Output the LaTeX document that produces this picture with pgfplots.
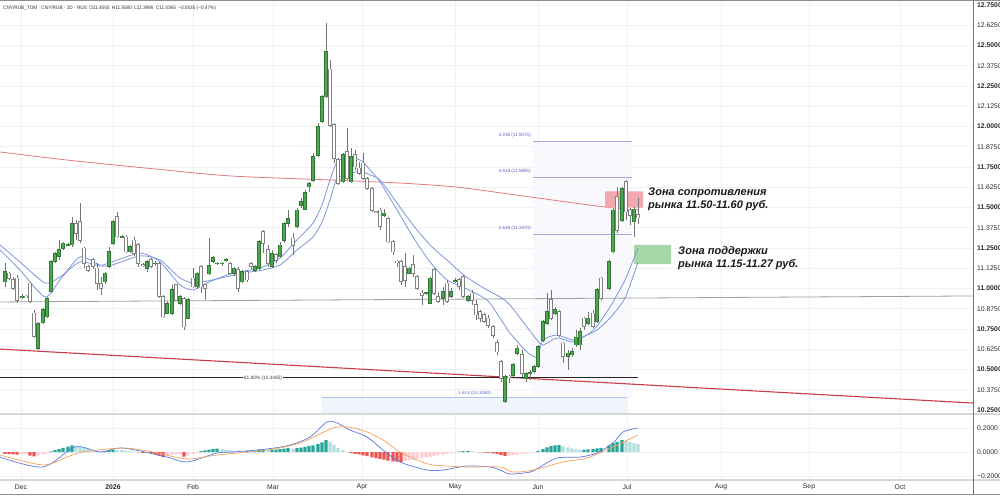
\documentclass[border=0pt]{standalone}
\usepackage{fontspec}
\setmainfont{Liberation Sans}
\usepackage{pgfplots}
\pgfplotsset{compat=1.18}
\usepackage{pgfplotstable}
\definecolor{gridc}{RGB}{240,241,245}
\definecolor{labc}{RGB}{40,40,40}
\definecolor{sepc}{RGB}{215,215,215}
\definecolor{greenin}{RGB}{76,168,80}
\definecolor{greenout}{RGB}{46,120,50}
\definecolor{whiteout}{RGB}{130,130,130}
\definecolor{wickc}{RGB}{115,115,115}
\definecolor{smac}{RGB}{228,120,125}
\definecolor{trendc}{RGB}{205,60,70}
\definecolor{mac}{RGB}{125,148,222}
\definecolor{hlinec}{RGB}{160,160,160}
\definecolor{fibc}{RGB}{165,168,230}
\definecolor{fibt}{RGB}{100,95,190}
\definecolor{fibfill}{RGB}{249,249,253}
\definecolor{fib2c}{RGB}{170,195,240}
\definecolor{fib2fill}{RGB}{240,245,252}
\definecolor{fib2t}{RGB}{80,110,200}
\definecolor{hteal}{RGB}{38,166,154}
\definecolor{hlteal}{RGB}{178,223,219}
\definecolor{hred}{RGB}{239,83,80}
\definecolor{hpink}{RGB}{255,205,210}
\definecolor{macdc}{RGB}{90,120,230}
\definecolor{sigc}{RGB}{245,160,90}
\definecolor{resc}{RGB}{243,167,175}
\definecolor{supc}{RGB}{165,215,167}

\pgfplotstableread{
x o h l c
5 11.042 11.155 11.011 11.104
22 10.948 10.965 10.935 10.952
38 10.631 10.795 10.620 10.785
43 10.789 10.877 10.780 10.867
47 10.826 10.950 10.820 10.939
51 10.981 11.176 10.970 11.166
55 11.166 11.227 11.155 11.217
59 11.197 11.299 11.176 11.238
63 11.248 11.290 11.240 11.279
68 11.268 11.280 11.260 11.272
72 11.269 11.443 11.258 11.398
105 11.042 11.100 11.030 11.094
109 11.135 11.258 11.125 11.227
113 11.279 11.423 11.269 11.413
122 11.316 11.330 11.310 11.320
130 11.227 11.270 11.220 11.258
147 11.125 11.176 11.100 11.166
155 11.153 11.170 11.140 11.157
167 10.847 10.920 10.840 10.908
172 10.847 11.022 10.836 10.991
180 10.908 10.960 10.900 10.950
188 10.816 10.940 10.810 10.929
197 11.011 11.100 11.000 11.094
209 11.090 11.310 11.083 11.139
213 11.166 11.200 11.155 11.192
217 11.153 11.165 11.145 11.157
222 11.153 11.165 11.140 11.157
226 11.174 11.190 11.165 11.178
234 11.094 11.135 11.080 11.125
242 11.042 11.114 11.032 11.104
255 11.114 11.145 11.105 11.135
259 11.124 11.299 11.114 11.289
272 11.135 11.238 11.124 11.217
280 11.196 11.289 11.186 11.268
284 11.299 11.412 11.279 11.402
288 11.402 11.484 11.382 11.433
297 11.382 11.495 11.371 11.484
301 11.515 11.556 11.495 11.536
305 11.489 11.608 11.484 11.591
309 11.628 11.659 11.598 11.649
313 11.670 11.834 11.659 11.814
318 11.824 12.019 11.814 11.999
322 12.030 12.194 12.019 12.184
326 12.184 12.641 12.174 12.462
343 11.659 11.834 11.649 11.824
351 11.659 11.865 11.649 11.814
384 11.450 11.490 11.440 11.465
409 11.094 11.130 11.090 11.125
426 10.969 10.980 10.960 10.973
430 10.909 11.073 10.904 11.063
443 10.940 11.012 10.898 10.981
451 10.950 11.001 10.940 10.981
455 11.046 11.063 11.032 11.050
468 10.929 10.960 10.919 10.950
505 10.302 10.466 10.296 10.456
513 10.466 10.538 10.456 10.528
517 10.600 10.652 10.590 10.631
526 10.446 10.487 10.425 10.473
530 10.475 10.497 10.436 10.479
534 10.487 10.528 10.477 10.518
538 10.518 10.652 10.508 10.641
543 10.682 10.806 10.672 10.796
547 10.785 10.971 10.775 10.857
555 10.847 10.888 10.837 10.868
568 10.580 10.621 10.498 10.600
572 10.590 10.631 10.580 10.610
576 10.652 10.744 10.641 10.699
580 10.652 10.754 10.621 10.734
588 10.785 10.857 10.775 10.816
597 10.796 11.001 10.785 10.991
609 11.001 11.176 10.991 11.166
613 11.227 11.495 11.221 11.484
622 11.423 11.628 11.413 11.618
634 11.412 11.505 11.320 11.489
}\upc

\pgfplotstableread{
x o h l c
9 11.094 11.104 11.053 11.063
13 11.053 11.073 10.991 11.001
17 11.063 11.083 10.908 10.929
26 10.952 10.960 10.940 10.948
30 11.032 11.042 10.908 10.919
34 10.847 10.867 10.692 10.703
76 11.402 11.423 11.299 11.341
80 11.413 11.526 11.279 11.299
84 11.248 11.258 11.125 11.155
88 11.135 11.145 11.100 11.114
93 11.176 11.190 11.120 11.135
97 11.125 11.155 10.991 11.032
101 11.032 11.073 10.960 11.001
117 11.443 11.474 11.310 11.320
126 11.316 11.330 11.217 11.227
134 11.299 11.320 11.200 11.217
138 11.269 11.279 11.135 11.155
143 11.147 11.160 11.130 11.143
151 11.176 11.190 11.125 11.135
159 11.155 11.166 10.939 10.950
163 10.950 10.960 10.816 10.826
176 11.022 11.030 10.920 10.929
184 10.939 10.950 10.744 10.764
193 11.063 11.125 11.001 11.011
201 11.135 11.145 10.970 11.011
205 11.022 11.030 10.930 11.002
230 11.155 11.166 11.083 11.094
238 11.114 11.135 10.981 11.001
247 11.104 11.114 11.042 11.053
251 11.155 11.165 11.120 11.135
263 11.350 11.361 11.217 11.279
268 11.238 11.268 11.135 11.155
276 11.207 11.220 11.160 11.176
293 11.310 11.340 11.207 11.268
330 12.353 12.410 11.999 12.009
334 12.009 12.019 11.773 11.803
338 11.793 11.803 11.639 11.649
347 11.845 11.989 11.670 11.680
355 11.824 11.855 11.731 11.752
359 11.742 11.783 11.701 11.711
363 11.773 11.834 11.670 11.680
367 11.680 11.690 11.608 11.618
372 11.618 11.628 11.474 11.484
376 11.476 11.480 11.465 11.472
380 11.484 11.495 11.361 11.382
388 11.433 11.443 11.279 11.289
393 11.289 11.299 11.207 11.227
397 11.168 11.176 11.135 11.164
401 11.166 11.176 11.022 11.043
405 11.135 11.217 11.012 11.053
413 11.145 11.207 11.073 11.094
417 11.073 11.084 10.991 11.001
422 10.971 10.991 10.898 10.960
434 11.115 11.125 10.960 10.971
438 10.950 10.981 10.909 10.919
447 11.032 11.053 10.909 10.919
459 11.053 11.063 10.991 11.012
463 11.073 11.084 10.940 10.950
472 10.971 10.991 10.898 10.929
476 10.898 10.929 10.806 10.837
480 10.857 10.868 10.796 10.816
484 10.837 10.850 10.785 10.796
488 10.816 10.837 10.754 10.775
493 10.765 10.775 10.693 10.713
497 10.666 10.682 10.590 10.610
501 10.549 10.559 10.425 10.446
509 10.458 10.466 10.415 10.454
522 10.590 10.621 10.456 10.477
551 10.929 10.991 10.806 10.816
559 10.857 10.868 10.703 10.713
563 10.662 10.672 10.538 10.580
584 10.816 10.826 10.744 10.765
593 10.847 10.868 10.754 10.765
601 11.063 11.073 10.929 10.940
617 11.567 11.628 11.340 11.361
626 11.659 11.670 11.423 11.474
630 11.484 11.495 11.392 11.454
638 11.455 11.558 11.3995 11.4365
}\dnc

\pgfplotsset{
  candle/.style n args={2}{draw=none, mark=none, forget plot,
    error bars/.cd, y dir=both, y explicit, error mark=none,
    error bar style={draw=#1, line width=#2, line cap=butt}},
}

\begin{document}
\begin{tikzpicture}
\path[use as bounding box] (0pt,0pt) rectangle (1000pt,-495pt);

\begin{axis}[
  at={(0pt,-1pt)}, anchor=north west, scale only axis,
  width=973pt, height=412pt,
  xmin=0, xmax=973, ymin=10.2315, ymax=12.7747,
  axis line style={draw=none}, major tick length=0pt,
  xtick={21,113,193,273,362,455,538,627,721,809,900}, xticklabels={},
  ytick={10.25,10.375,10.5,10.625,10.75,10.875,11,11.125,11.25,11.375,11.5,11.625,11.75,11.875,12,12.125,12.25,12.375,12.5,12.625,12.75},
  yticklabels={\textbf{10.2500},10.3750,\textbf{10.5000},10.6250,\textbf{10.7500},10.8750,\textbf{11.0000},11.1250,\textbf{11.2500},11.3750,\textbf{11.5000},11.6250,\textbf{11.7500},11.8750,\textbf{12.0000},12.1250,\textbf{12.2500},12.3750,\textbf{12.5000},12.6250,\textbf{12.7500}},
  yticklabel pos=right,
  yticklabel style={anchor=west, inner sep=0pt, xshift=4pt, font=\fontsize{6.8}{8}\selectfont, text=labc},
  xmajorgrids, ymajorgrids, grid style={gridc, line width=0.7pt},
]
\addplot[draw=none, fill=fibfill] coordinates {(533,11.9075)(632,11.9075)(632,10.326)(533,10.326)(533,11.9075)};
\addplot[draw=none, fill=fib2fill] coordinates {(322,10.326)(627,10.326)(627,10.2)(322,10.2)(322,10.326)};
\addplot[fibc, line width=0.6pt] coordinates {(533,11.9075)(632,11.9075)};
\addplot[fibc, line width=0.6pt] coordinates {(533,11.6895)(632,11.6895)};
\addplot[fibc, line width=0.6pt] coordinates {(533,11.337)(632,11.337)};
\addplot[fib2c, line width=0.6pt] coordinates {(322,10.326)(627,10.326)};
\node[anchor=east, inner sep=0pt, font=\fontsize{4.6}{5}\selectfont, text=fibt] at (axis cs:531,11.944) {4.236 (11.9075)};
\node[anchor=east, inner sep=0pt, font=\fontsize{4.6}{5}\selectfont, text=fibt] at (axis cs:531,11.725) {3.618 (11.6895)};
\node[anchor=east, inner sep=0pt, font=\fontsize{4.6}{5}\selectfont, text=fibt] at (axis cs:531,11.373) {2.618 (11.3370)};
\node[anchor=east, inner sep=0pt, font=\fontsize{4.6}{5}\selectfont, text=fib2t] at (axis cs:491,10.355) {1.618 (10.3260)};

\addplot[hlinec, line width=0.8pt] coordinates {(0,10.917)(973,10.954)};
\addplot[trendc, line width=1.1pt] coordinates {(0,10.626)(973,10.293)};
\addplot[black!85, line width=1.2pt] coordinates {(0,10.4485)(638,10.4485)};
\node[fill=white, inner sep=1.2pt, font=\fontsize{4.8}{5}\selectfont, text=black!75] at (axis cs:263,10.4485) {61.80\% (10.4485)};

\addplot[smac, line width=0.8pt, smooth] coordinates {(0,11.843)(67,11.793)(150,11.741)(230,11.695)(330,11.670)(400,11.651)(450,11.630)(480,11.608)(530,11.565)(605,11.503)(638,11.485)};

\addplot[draw=none, fill=resc] coordinates {(605,11.5)(643,11.5)(643,11.6)(605,11.6)(605,11.5)};
\addplot[draw=none, fill=supc] coordinates {(634,11.15)(671,11.15)(671,11.27)(634,11.27)(634,11.15)};

\addplot[mac, line width=0.8pt, smooth, tension=0.4] coordinates {(0,11.238)(20,11.114)(45,10.948)(60,11.053)(80,11.195)(100,11.145)(112,11.164)(140,11.219)(160,11.164)(180,11.022)(193,10.991)(207,11.034)(230,11.090)(250,11.114)(263,11.133)(280,11.188)(297,11.300)(313,11.404)(322,11.516)(330,11.670)(337,11.781)(347,11.806)(355,11.806)(363,11.781)(370,11.732)(380,11.658)(397,11.485)(413,11.318)(430,11.164)(447,11.053)(465,11.003)(487,10.929)(500,10.818)(510,10.725)(527,10.608)(537,10.577)(543,10.682)(557,10.713)(573,10.682)(587,10.713)(597,10.769)(610,10.886)(625,11.053)(638,11.250)};
\addplot[mac, line width=0.8pt, smooth, tension=0.4] coordinates {(0,11.269)(20,11.164)(45,11.034)(60,11.071)(80,11.164)(100,11.139)(112,11.145)(140,11.201)(160,11.176)(180,11.065)(193,11.034)(207,11.046)(230,11.077)(250,11.102)(263,11.114)(280,11.145)(297,11.238)(313,11.318)(322,11.411)(330,11.546)(337,11.682)(347,11.701)(355,11.719)(363,11.719)(370,11.701)(380,11.670)(397,11.528)(413,11.392)(430,11.269)(447,11.176)(465,11.077)(487,10.991)(500,10.948)(510,10.898)(527,10.762)(537,10.682)(543,10.651)(557,10.695)(573,10.670)(587,10.713)(597,10.744)(610,10.818)(625,10.941)(638,11.164)};

\addplot[candle={wickc}{0.8pt}]
  table[x=x, y expr={(\thisrow{h}+\thisrow{l})/2}, y error expr={(\thisrow{h}-\thisrow{l})/2}] {\upc};
\addplot[candle={wickc}{0.8pt}]
  table[x=x, y expr={(\thisrow{h}+\thisrow{l})/2}, y error expr={(\thisrow{h}-\thisrow{l})/2}] {\dnc};
\addplot[candle={greenout}{3.3pt}]
  table[x=x, y expr={(\thisrow{o}+\thisrow{c})/2}, y error expr={abs(\thisrow{c}-\thisrow{o})/2+0.0035}] {\upc};
\addplot[candle={greenin}{1.9pt}]
  table[x=x, y expr={(\thisrow{o}+\thisrow{c})/2}, y error expr={max(abs(\thisrow{c}-\thisrow{o})/2-0.001,0)}] {\upc};
\addplot[candle={whiteout}{3.3pt}]
  table[x=x, y expr={(\thisrow{o}+\thisrow{c})/2}, y error expr={abs(\thisrow{c}-\thisrow{o})/2+0.0035}] {\dnc};
\addplot[candle={white}{1.9pt}]
  table[x=x, y expr={(\thisrow{o}+\thisrow{c})/2}, y error expr={max(abs(\thisrow{c}-\thisrow{o})/2-0.001,0)}] {\dnc};

\node[anchor=base west, inner sep=0pt, font=\fontsize{11}{13}\selectfont\bfseries\itshape, text=black!90] at (axis cs:648,11.577) {Зона сопротивления};
\node[anchor=base west, inner sep=0pt, font=\fontsize{11}{13}\selectfont\bfseries\itshape, text=black!90] at (axis cs:648,11.491) {рынка 11.50-11.60 руб.};
\node[anchor=base west, inner sep=0pt, font=\fontsize{11}{13}\selectfont\bfseries\itshape, text=black!90] at (axis cs:678,11.213) {Зона поддержки};
\node[anchor=base west, inner sep=0pt, font=\fontsize{11}{13}\selectfont\bfseries\itshape, text=black!90] at (axis cs:678,11.127) {рынка 11.15-11.27 руб.};
\end{axis}

\begin{axis}[
  at={(0pt,-415pt)}, anchor=north west, scale only axis,
  width=973pt, height=64pt,
  xmin=0, xmax=973, ymin=-0.225, ymax=0.3083,
  axis line style={draw=none}, major tick length=0pt,
  xtick={21,113,193,273,362,455,538,627,721,809,900},
  xticklabels={Dec,\textbf{2026},Feb,Mar,Apr,May,Jun,Jul,Aug,Sep,Oct},
  xticklabel style={anchor=center, inner sep=0pt, yshift=-8pt, font=\fontsize{6.8}{8}\selectfont, text=labc},
  ytick={-0.2,0,0.2}, yticklabels={−0.2000,0.0000,0.2000},
  yticklabel pos=right,
  yticklabel style={anchor=west, inner sep=0pt, xshift=4pt, font=\fontsize{6.8}{8}\selectfont, text=labc},
  xmajorgrids, ymajorgrids, grid style={gridc, line width=0.7pt},
]
\addplot[ybar, bar width=3.3, bar shift=0pt, draw=none, fill=hteal] coordinates {(51,.005)(55,.015)(59,.025)(63,.035)(68,.045)(72,.055)(105,.008)(109,.015)(113,.02)(201,.008)(205,.014)(209,.02)(213,.024)(217,.028)(247,.008)(255,.01)(259,.02)(263,.022)(272,.018)(276,.02)(280,.024)(284,.028)(288,.032)(297,.032)(301,.036)(305,.042)(309,.048)(313,.055)(318,.065)(322,.08)(326,.1)(459,.004)(463,.008)(468,.01)(538,.01)(543,.025)(547,.038)(551,.048)(555,.055)(559,.058)(584,.02)(588,.022)(593,.025)(597,.03)(601,.034)(609,.055)(613,.075)(617,.085)(622,.1)};
\addplot[ybar, bar width=3.3, bar shift=0pt, draw=none, fill=hlteal] coordinates {(76,.05)(80,.045)(84,.035)(88,.028)(93,.02)(97,.012)(101,.005)(117,.018)(122,.015)(126,.012)(130,.008)(134,.004)(222,.025)(226,.02)(230,.014)(234,.01)(238,.006)(242,.004)(251,.007)(268,.016)(293,.028)(330,.085)(334,.06)(338,.035)(343,.015)(347,.004)(472,.006)(476,.002)(563,.048)(568,.038)(572,.03)(576,.022)(580,.018)(626,.092)(630,.085)(634,.075)(638,.065)};
\addplot[ybar, bar width=3.3, bar shift=0pt, draw=none, fill=hred] coordinates {(5,-.015)(9,-.018)(13,-.02)(17,-.022)(30,-.03)(34,-.036)(138,-.004)(143,-.008)(151,-.01)(155,-.018)(159,-.03)(163,-.042)(184,-.038)(351,-.01)(355,-.015)(359,-.02)(363,-.028)(367,-.035)(372,-.045)(376,-.05)(380,-.058)(384,-.064)(388,-.072)(393,-.078)(397,-.08)(401,-.082)(480,-.003)(484,-.005)(488,-.008)(493,-.012)(497,-.018)(501,-.026)(505,-.032)};
\addplot[ybar, bar width=3.3, bar shift=0pt, draw=none, fill=hpink] coordinates {(22,-.018)(26,-.015)(38,-.03)(43,-.02)(47,-.01)(147,-.006)(167,-.035)(172,-.025)(176,-.02)(180,-.018)(188,-.028)(193,-.015)(197,-.005)(405,-.075)(409,-.07)(413,-.064)(417,-.058)(422,-.052)(426,-.046)(430,-.04)(434,-.034)(438,-.028)(443,-.022)(447,-.016)(451,-.01)(455,-.005)(509,-.03)(513,-.026)(517,-.022)(522,-.018)(526,-.014)(530,-.01)(534,-.005)};
\addplot[macdc, line width=0.7pt, smooth, tension=0.5] coordinates {(0,-0.042)(43,-0.125)(75,0.042)(100,0)(123,0.033)(167,-0.042)(187,-0.083)(217,-0.008)(233,0)(267,0.025)(290,0.058)(310,0.125)(327,0.25)(337,0.242)(350,0.183)(367,0.125)(383,0.017)(400,-0.083)(427,-0.15)(443,-0.15)(467,-0.117)(490,-0.125)(500,-0.15)(510,-0.183)(530,-0.167)(540,-0.125)(557,-0.05)(580,-0.042)(597,-0.008)(613,0.075)(623,0.167)(638,0.2)};
\addplot[sigc, line width=0.7pt, smooth, tension=0.5] coordinates {(0,-0.025)(43,-0.108)(67,-0.042)(83,0)(123,0.033)(153,0)(187,-0.058)(217,-0.025)(267,0.017)(300,0.075)(333,0.2)(350,0.205)(367,0.167)(383,0.1)(400,0.0)(417,-0.067)(433,-0.108)(467,-0.125)(500,-0.125)(513,-0.167)(533,-0.15)(563,-0.083)(587,-0.05)(613,0.042)(638,0.142)};
\end{axis}

\draw[sepc, line width=2pt] (0pt,-414pt) -- (1000pt,-414pt);
\draw[sepc, line width=2pt] (0pt,-479.5pt) -- (1000pt,-479.5pt);
\draw[black!55, line width=0.7pt] (973pt,0pt) -- (973pt,-495pt);
\draw[black!45, line width=0.8pt] (0pt,-0.4pt) -- (1000pt,-0.4pt);
\draw[black!45, line width=0.8pt] (0pt,-494.6pt) -- (1000pt,-494.6pt);
\node[anchor=west, inner sep=0pt, font=\fontsize{4.7}{5}\selectfont, text=black!80] at (3pt,-8pt) {CNY/RUB\_TOM · CNY/RUB · 1D · RUS\enspace O11.4550\enspace H11.5580\enspace L11.3995\enspace C11.4365\enspace −0.0535 (−0.47\%)};
\end{tikzpicture}
\end{document}
